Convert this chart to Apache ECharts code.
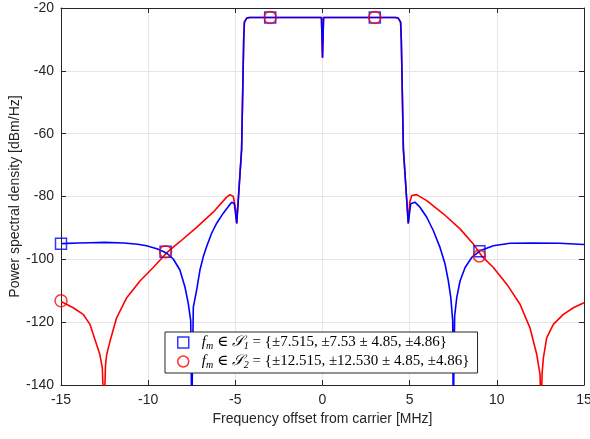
<!DOCTYPE html>
<html>
<head>
<meta charset="utf-8">
<script src="https://cdn.jsdelivr.net/npm/echarts@6/dist/echarts.min.js"></script>
<style>html,body{margin:0;padding:0;background:#fff}#c{width:590px;height:439px}</style>
</head>
<body>
<div id="c"></div>
<script>
// Blue curve: f_m in S1
const blueCurve = [
  [-15,-95.0],[-14,-94.8],[-13.3,-94.7],[-12.5,-94.6],[-11.4,-94.8],[-10.6,-95.2],[-10.1,-95.7],
  [-9.5,-96.6],[-9.1,-97.6],[-8.88,-98.3],[-8.56,-99.9],[-8.18,-103.4],[-7.89,-108.8],[-7.70,-114],
  [-7.56,-119.5],[-7.5,-150],[-7.41,-115.2],[-7.22,-109.8],[-7.03,-103.4],[-6.84,-99.2],[-6.65,-96.0],
  [-6.36,-91.7],[-6.07,-88.5],[-5.69,-85.3],[-5.40,-83.2],[-5.21,-81.8],[-5.06,-82.3],[-4.92,-88.6],
  [-4.64,-65],[-4.52,-30],[-4.48,-24.5],[-4.35,-23.3],[-4.2,-23.0],[-3,-23.0],[-1,-23.0],
  [-0.06,-23.0],[0,-35.8],[0.06,-23.0],[1,-23.0],[3,-23.0],[4.2,-23.0],[4.35,-23.3],[4.48,-24.5],
  [4.52,-30],[4.64,-65],[4.92,-88.6],[5.06,-82.3],[5.3,-81.8],[5.59,-83.4],[5.98,-86.6],[6.36,-90.9],
  [6.74,-96.2],[7.03,-101.5],[7.22,-106.9],[7.36,-112.2],[7.47,-119.7],[7.5,-150],[7.58,-118],
  [7.7,-112.2],[7.89,-106.9],[8.18,-102.6],[8.56,-99.4],[9.04,-97.3],[9.8,-95.7],[10.76,-94.9],
  [12.1,-94.8],[13.6,-94.9],[15,-95.3]
];
// Red curve: f_m in S2
const redCurve = [
  [-15,-113.4],[-14.3,-115.4],[-13.73,-117.5],[-13.34,-120.7],[-12.96,-127.1],[-12.77,-130.3],
  [-12.63,-134.6],[-12.53,-150],[-12.45,-134],[-12.38,-130.3],[-12.19,-126.1],[-11.81,-118.6],
  [-11.23,-112.2],[-10.47,-106.9],[-9.71,-102.6],[-8.88,-97.6],[-8.18,-94.4],[-7.22,-89.8],
  [-6.27,-85.0],[-5.5,-80.2],[-5.31,-79.4],[-5.12,-80.0],[-4.98,-84],[-4.92,-88.6],
  [-4.64,-65],[-4.52,-30],[-4.48,-24.5],[-4.35,-23.3],[-4.2,-23.0],[-3,-23.0],[-1,-23.0],
  [-0.06,-23.0],[0,-35.8],[0.06,-23.0],[1,-23.0],[3,-23.0],[4.2,-23.0],[4.35,-23.3],[4.48,-24.5],
  [4.52,-30],[4.64,-65],[4.92,-88.6],[5.0,-82],[5.12,-79.7],[5.4,-79.4],[5.98,-81.3],[6.93,-85.5],
  [7.89,-90.3],[8.65,-95.1],[9.13,-98.9],[9.8,-102.6],[10.57,-107.9],[11.33,-114.3],[11.9,-121.8],
  [12.29,-130.3],[12.48,-136.7],[12.53,-150],[12.6,-136],[12.67,-131.4],[12.86,-125],[13.24,-120.7],
  [13.82,-117.5],[14.39,-115.4],[15,-113.8]
];
const blueMarkers = [[-15,-95.0],[-9,-97.6],[-3,-23.0],[3,-23.0],[9,-97.4]];
const redMarkers  = [[-15,-113.2],[-9,-97.6],[-3,-23.0],[3,-23.0],[9,-98.9]];

const xLabel = 'Frequency offset from carrier [MHz]';
const yLabel = 'Power spectral density [dBm/Hz]';
const legend1 = '{f|f}{sub|m} ∈ {cal|𝒮}{sub|1} = {±7.515, ±7.53 ± 4.85, ±4.86}';
const legend2 = '{f|f}{sub|m} ∈ {cal|𝒮}{sub|2} = {±12.515, ±12.530 ± 4.85, ±4.86}';

const axisColor = '#262626';
const sans = 'Liberation Sans, Arial, sans-serif';
const serif = 'Liberation Serif, DejaVu Serif, serif';

function xAx(pos, main) {
  return {
    type: 'value', position: pos, min: -15, max: 15, interval: 5,
    axisLine: {show: true, onZero: false, lineStyle: {color: axisColor, width: 1}},
    axisTick: {show: true, inside: true, length: 5, lineStyle: {color: axisColor}},
    axisLabel: {show: main, color: axisColor, fontFamily: sans, fontSize: 14, margin: 8},
    splitLine: {show: main, lineStyle: {color: '#e6e6e6', width: 1}},
    name: main ? xLabel : '', nameLocation: 'middle', nameGap: 27, nameMoveOverlap: false,
    nameTextStyle: {color: axisColor, fontFamily: sans, fontSize: 14}
  };
}
function yAx(pos, main) {
  return {
    type: 'value', position: pos, min: -140, max: -20, interval: 20,
    axisLine: {show: true, onZero: false, lineStyle: {color: axisColor, width: 1}},
    axisTick: {show: true, inside: true, length: 5, lineStyle: {color: axisColor}},
    axisLabel: {show: main, color: axisColor, fontFamily: sans, fontSize: 14, margin: 7},
    splitLine: {show: main, lineStyle: {color: '#e6e6e6', width: 1}},
    name: main ? yLabel : '', nameLocation: 'middle', nameGap: 39, nameMoveOverlap: false,
    nameTextStyle: {color: axisColor, fontFamily: sans, fontSize: 14}
  };
}

const chart = echarts.init(document.getElementById('c'), null, {renderer: 'canvas'});
chart.setOption({
  animation: false,
  backgroundColor: '#fff',
  grid: {left: 61, right: 6, top: 8, bottom: 54, containLabel: false, outerBoundsMode: 'none'},
  xAxis: [xAx('bottom', true), xAx('top', false)],
  yAxis: [yAx('left', true), yAx('right', false)],
  legend: {
    left: 165, top: 332, orient: 'vertical',
    backgroundColor: '#fff', borderColor: axisColor, borderWidth: 1,
    padding: [3, 8, 3, 12], itemGap: 3, itemWidth: 11, itemHeight: 11,
    selectedMode: false,
    data: [
      {name: 'S1', icon: 'rect', itemStyle: {color: 'transparent', borderColor: '#0000ff', borderWidth: 1.5}},
      {name: 'S2', icon: 'circle', itemStyle: {color: 'transparent', borderColor: '#ff0000', borderWidth: 1.5}}
    ],
    formatter: function (n) { return n === 'S1' ? legend1 : legend2; },
    textStyle: {
      fontFamily: serif, fontSize: 15, color: '#000', padding: [0, 0, 0, 8],
      rich: {
        f: {fontFamily: serif, fontStyle: 'italic', fontSize: 15},
        cal: {fontFamily: serif, fontStyle: 'italic', fontSize: 15},
        sub: {fontFamily: serif, fontStyle: 'italic', fontSize: 10, padding: [7, 0, 0, 0]}
      }
    }
  },
  series: [
    {type: 'line', name: 'redLine', data: redCurve, showSymbol: false, clip: true,
     lineStyle: {color: '#ff0000', width: 1.6}, itemStyle: {color: '#ff0000'}, z: 2},
    {type: 'line', name: 'blueLine', data: blueCurve, showSymbol: false, clip: true,
     lineStyle: {color: '#0000ff', width: 1.6}, itemStyle: {color: '#0000ff'}, z: 3},
    {type: 'scatter', name: 'S1', data: blueMarkers, symbol: 'rect', symbolSize: 11, clip: false,
     itemStyle: {color: 'transparent', borderColor: '#0000ff', borderWidth: 1.5}, z: 4},
    {type: 'scatter', name: 'S2', data: redMarkers, symbol: 'circle', symbolSize: 12, clip: false,
     itemStyle: {color: 'transparent', borderColor: '#ff0000', borderWidth: 1.5}, z: 5}
  ]
});
</script>
</body>
</html>
